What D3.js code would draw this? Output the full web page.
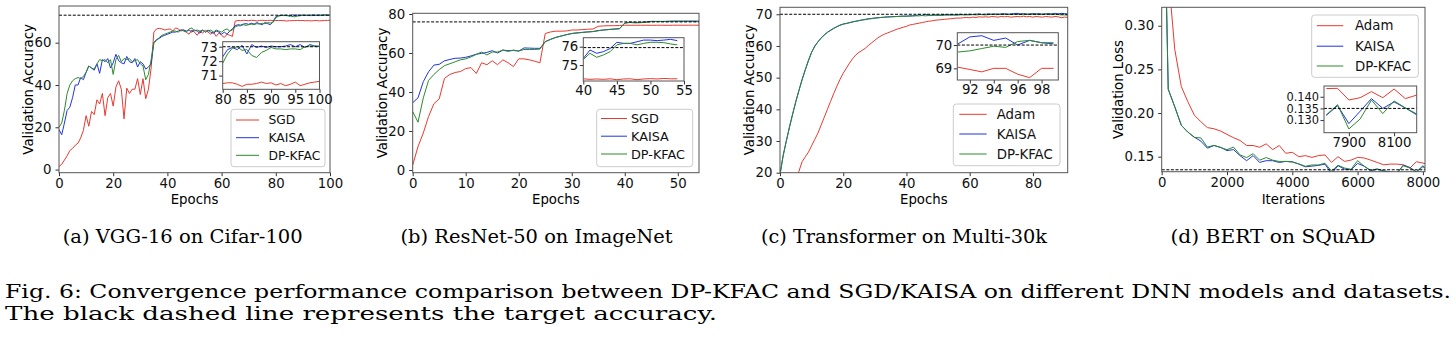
<!DOCTYPE html>
<html>
<head>
<meta charset="utf-8">
<script src="https://cdn.jsdelivr.net/npm/d3@7"></script>
<style>
  body { margin: 0; background: #fff; }
  svg { display: block; }
  .axis text { font-family: 'DejaVu Sans', sans-serif; fill: #111; }
  .axis line { stroke: #333; }
</style>
</head>
<body>
<script>
/* global d3 */

// ---- (a) VGG-16 on Cifar-100 ----
var vggEpochs = d3.range(0, 101);
var vggSGD = [
  1.5, 2.5, 4.5, 6.5, 9, 10, 11.5, 12.5, 15, 18.5,
  25.5, 20.5, 27.5, 26, 33, 31, 36, 25.5, 34, 36,
  30, 39, 42, 38, 24, 38.5, 36, 38, 38, 43,
  35.5, 43, 33.5, 38, 48, 65, 66.5, 66.8, 66.5, 66,
  66.3, 66.5, 65.5, 67, 66.5, 65.5, 66, 65, 64, 66,
  65, 63.5, 65.5, 64.5, 66, 65, 64, 65, 63, 64.5,
  63.5, 62.5, 64, 63.5, 63, 70.2, 70.5, 70.4, 70.6, 70.5,
  70.4, 70.6, 70.5, 70.3, 70.5, 70.6, 70.4, 70.5, 70.6, 70.4,
  70.45, 70.5, 70.5, 70.4, 70.25, 70.4, 70.4, 70.45, 70.55, 70.45,
  70.5, 70.35, 70.45, 70.3, 70.4, 70.55, 70.3, 70.4, 70.5, 70.55,
  70.6
];
var vggKAISA = [
  19, 16.5, 22, 28, 29.5, 34, 40, 40, 43.5, 42.5,
  46, 49, 48, 47, 50, 45.5, 52, 51, 52.5, 48,
  50.5, 54.5, 51.5, 50.5, 50, 53.5, 51, 50.5, 52.5, 48.5,
  51, 50, 47.5, 48.5, 50, 60, 61.5, 62, 63, 63.5,
  64, 64.5, 65, 65, 65.5, 66, 66, 65.5, 66, 65,
  66, 65.5, 64.5, 66, 65, 66, 65, 64.5, 65.5, 65,
  64, 65, 64, 65.5, 66.5, 68, 68.5, 68.3, 68.8, 69,
  68.7, 69.2, 68.8, 69.5, 69, 68.5, 69.5, 69, 68.5, 70,
  72.3, 72.8, 72.95, 72.8, 73.1, 72.5, 73.15, 72.95, 73.05, 72.95,
  73.05, 73, 73, 73.05, 73.15, 73, 73.15, 72.95, 73.15, 73.05,
  73
];
var vggDPKFAC = [
  20, 22, 28, 36, 40, 42, 43, 43.5, 43, 44,
  46, 49, 48, 47.5, 50, 52, 51.5, 52, 50.5, 52,
  45, 52, 54, 51, 52.5, 52, 52.5, 51, 51.5, 52,
  50, 49, 42.5, 45, 52, 60, 61, 62.5, 63.5, 64,
  64.5, 65, 65.5, 65.5, 65, 66, 65.5, 65, 66.5, 67,
  65.5, 66, 65.5, 66, 65, 65.5, 66, 65, 66, 65.5,
  65, 66, 66.5, 65.5, 66, 67.5, 68, 68, 68.5, 68.2,
  68.5, 68.8, 68.5, 69, 68.8, 69.2, 69, 69.5, 69.3, 69.6,
  71.85, 72.5, 72.9, 73, 72.75, 72.8, 72.4, 72.25, 72.6, 72.75,
  72.95, 72.85, 72.85, 72.8, 72.85, 72.85, 72.8, 73, 73.05, 73.05,
  73.05
];
var vggTarget = 73;

// ---- (b) ResNet-50 on ImageNet ----
var resnetEpochs = d3.range(0, 55);
var resnetSGD = [
  2.5, 12, 19, 27.5, 34, 36.5, 47, 49, 50, 50.5,
  52, 52.5, 49.5, 55, 54, 56, 54, 56.5, 55, 53,
  57, 57, 56.5, 55.8, 55, 70, 70.8, 71.2, 71.2, 71.3,
  71.8, 71.8, 72, 72.2, 72.3, 73.7, 73.9, 74, 74, 74.1,
  74.25, 74.22, 74.24, 74.22, 74.25, 74.2, 74.24, 74.25, 74.2, 74.24,
  74.26, 74.24, 74.27, 74.25, 74.25
];
var resnetKAISA = [
  34.5, 37, 45.3, 50.4, 53.8, 54.2, 56, 56.7, 57.3, 57.4,
  57.8, 58.5, 59.4, 59.8, 60.3, 61.2, 60, 61.5, 61.2, 61.3,
  61, 62.6, 62.5, 62.4, 62.4, 65.8, 67, 68, 68.7, 69.4,
  70, 70.3, 70.6, 70.8, 71, 71.5, 71.8, 72.1, 72.3, 72.5,
  75.36, 75.82, 75.64, 75.73, 75.9, 76.24, 76.18, 76.18, 76.27, 76.36,
  76.36, 76.33, 76.36, 76.4, 76.33
];
var resnetDPKFAC = [
  30, 24.5, 37, 46, 49, 51.5, 53.5, 54.5, 55.5, 56.5,
  57, 58, 59.3, 60.5, 59, 60.5, 60.5, 61.5, 60.8, 61.5,
  61, 61.8, 61.8, 61.8, 62, 65.8, 67, 68, 68.7, 69.4,
  70, 70.3, 70.5, 70.8, 71, 71.4, 71.8, 72, 72.2, 72.4,
  75.3, 75.64, 75.42, 75.55, 75.73, 76.1, 76.18, 76.18, 76.1, 76.18,
  76.24, 76.24, 76.22, 76.15, 76.1
];
var resnetTarget = 75.95;

// ---- (c) Transformer on Multi-30k ----
var transEpochs = d3.range(0, 100);
var transAdam = [
  4, 7, 9.5, 12, 14.5, 17.5, 20.5, 23.5, 25, 26.5,
  28.5, 30.5, 32.5, 35, 37.5, 40, 42.5, 45, 47.3, 49.5,
  51.4, 53, 54.6, 56, 57.2, 58, 58.6, 59.3, 60.2, 61,
  61.8, 62.6, 63.2, 63.7, 64.1, 64.5, 64.9, 65.3, 65.6, 65.9,
  66.2, 66.6, 66.8, 67, 67.2, 67.4, 67.6, 67.8, 67.9, 68.1,
  68.2, 68.3, 68.4, 68.5, 68.6, 68.7, 68.8, 68.8, 68.9, 69,
  68.9, 69.1, 69, 69.2, 69.1, 69.2, 69.1, 69.3, 69.2, 69.1,
  69.3, 69.2, 69.3, 69.1, 69.2, 69.3, 69.2, 69.4, 69.2, 69.3,
  69.1, 69.3, 69.2, 69.1, 69.3, 69.2, 69.1, 69.3, 69.2, 68.9,
  69.1, 69.05, 68.95, 68.85, 69, 69, 68.75, 68.6, 69, 69
];
var transKAISA = [
  19.5, 25.5, 30, 34.5, 38.5, 42.5, 46, 49.5, 52.5, 55.5,
  58, 60, 61.3, 62.5, 63.5, 64.3, 65, 65.6, 66.1, 66.6,
  66.9, 67.1, 67.4, 67.6, 67.8, 68, 68.2, 68.4, 68.6, 68.7,
  68.8, 68.9, 69, 69.1, 69.2, 69.2, 69.3, 69.3, 69.4, 69.4,
  69.4, 69.5, 69.5, 69.6, 69.9, 69.6, 70, 69.7, 69.7, 69.8,
  69.7, 69.8, 69.9, 69.8, 69.9, 69.8, 69.9, 70, 69.8, 69.9,
  70, 69.9, 70, 70.1, 69.9, 70, 70.1, 70, 70.1, 70,
  70.1, 70.2, 70, 70.1, 70.2, 70.3, 70.1, 70.2, 70, 70.1,
  70.2, 70.1, 70.2, 70, 70.1, 70.2, 70.1, 70.3, 70.1, 70.3,
  70.2, 70.05, 70.35, 70.4, 70.2, 70.3, 70, 70.2, 70.1, 70.05
];
var transDPKFAC = [
  19.3, 25.3, 30, 34.3, 38.5, 42.3, 46, 49.3, 52.5, 55.3,
  58, 59.8, 61.3, 62.5, 63.4, 64.3, 64.9, 65.5, 66.1, 66.5,
  66.9, 67.1, 67.3, 67.6, 67.8, 68, 68.2, 68.3, 68.5, 68.6,
  68.8, 68.9, 69, 69, 69.1, 69.2, 69.2, 69.3, 69.3, 69.4,
  69.4, 69.4, 69.5, 69.5, 69.5, 69.6, 69.5, 69.6, 69.6, 69.7,
  69.7, 69.6, 69.7, 69.8, 69.7, 69.8, 69.7, 69.8, 69.9, 69.8,
  69.8, 69.9, 69.8, 69.9, 69.9, 69.8, 69.9, 70, 69.9, 69.9,
  70, 69.9, 70, 69.9, 70, 70, 69.9, 70, 70.1, 69.9,
  70, 70, 69.9, 70, 70.1, 70, 69.9, 70, 69.9, 69.8,
  69.8, 69.7, 69.75, 69.85, 69.95, 69.9, 70.15, 70.2, 70.1, 70.1
];
var transTarget = 70;

// ---- (d) BERT on SQuAD ----
var bertIters = [
  0, 200, 400, 600, 800, 1000, 1200, 1400, 1600, 1800,
  2000, 2200, 2400, 2600, 2800, 3000, 3200, 3400, 3600, 3800,
  4000, 4200, 4400, 4600, 4800, 5000, 5200, 5400, 5600, 5800,
  6000, 6200, 6400, 6600, 6800, 7000, 7200, 7400, 7600, 7800,
  8000, 8200
];
var bertAdam = [
  0.62, 0.36, 0.273, 0.2304, 0.213, 0.1976, 0.19, 0.1833, 0.182, 0.1794,
  0.1755, 0.1717, 0.1686, 0.1628, 0.1628, 0.1608, 0.1647, 0.1581, 0.1628, 0.1539,
  0.155, 0.15, 0.1512, 0.1492, 0.1512, 0.152, 0.1434, 0.15, 0.1446, 0.1461,
  0.1492, 0.1485, 0.1461, 0.1434, 0.1407, 0.1415, 0.1415, 0.1407, 0.1369, 0.1442,
  0.1427, 0.1407
];
var bertKAISA = [
  0.6, 0.2273, 0.2072, 0.186, 0.1782, 0.1724, 0.1678, 0.1597, 0.1628, 0.1608,
  0.157, 0.1581, 0.1512, 0.1454, 0.1512, 0.1434, 0.1454, 0.1454, 0.1434, 0.1446,
  0.1442, 0.1415, 0.1384, 0.1392, 0.14, 0.1415, 0.1307, 0.1396, 0.1357, 0.135,
  0.1423, 0.1392, 0.1338, 0.1357, 0.1338, 0.1326, 0.1307, 0.1404, 0.1377, 0.1326,
  0.1396, 0.1326
];
var bertDPKFAC = [
  0.6, 0.2273, 0.2072, 0.186, 0.1782, 0.172, 0.1715, 0.161, 0.163, 0.1605,
  0.158, 0.161, 0.152, 0.149, 0.1535, 0.146, 0.149, 0.146, 0.1445, 0.1446,
  0.1438, 0.1418, 0.139, 0.1405, 0.1405, 0.1425, 0.1335, 0.1402, 0.137, 0.1355,
  0.1455, 0.139, 0.1345, 0.136, 0.1335, 0.1318, 0.1312, 0.1395, 0.1372, 0.1325,
  0.1385, 0.1322
];
var bertZoomIters = [7800, 7850, 7900, 7950, 8000, 8050, 8100, 8150, 8200];
var bertZoomAdam = [0.1435, 0.1436, 0.1386, 0.1396, 0.1422, 0.1396, 0.1433, 0.1392, 0.1407];
var bertZoomKAISA = [0.132, 0.1362, 0.1285, 0.1338, 0.1392, 0.135, 0.1378, 0.1352, 0.1326];
var bertZoomDPKFAC = [0.1322, 0.1366, 0.1262, 0.1305, 0.1386, 0.1328, 0.1382, 0.1352, 0.1322];
var bertTarget = 0.135;

// ---- captions ----
var subCaptions = [
  '(a) VGG-16 on Cifar-100',
  '(b) ResNet-50 on ImageNet',
  '(c) Transformer on Multi-30k',
  '(d) BERT on SQuAD'
];
var figCaption = [
  'Fig. 6: Convergence performance comparison between DP-KFAC and SGD/KAISA on different DNN models and datasets.',
  'The black dashed line represents the target accuracy.'
];

var RED = '#e8392f',
    BLUE = '#2233e0',
    GREEN = '#2c8a2c';

var w = 1456,
    h = 343;

var svg = d3.select('body').append('svg')
  .attr('width', w)
  .attr('height', h);

var panels = [
  {
    id: 'a', left: 59, right: 330, top: 6, bottom: 172.7,
    xDomain: [0, 100], yDomain: [-1.47, 77.35],
    xTicks: [0, 20, 40, 60, 80, 100], yTicks: [0, 20, 40, 60],
    yFormat: d3.format('d'), xFormat: d3.format('d'),
    xLabel: 'Epochs', yLabel: 'Validation Accuracy', yLabelX: 32.7,
    xs: vggEpochs,
    series: [
      { name: 'SGD', values: vggSGD, color: RED },
      { name: 'KAISA', values: vggKAISA, color: BLUE },
      { name: 'DP-KFAC', values: vggDPKFAC, color: GREEN }
    ],
    target: vggTarget,
    legend: { left: 231, right: 325, top: 109.3, bottom: 166.7, rows: [120, 137.7, 155.3], line: [236, 259], textX: 268.5, size: 12.3 },
    inset: {
      left: 222.7, right: 319.5, top: 41.7, bottom: 89.3,
      xDomain: [80, 100], yDomain: [70.05, 73.35], tickSize: 13.3,
      xTicks: [80, 85, 90, 95, 100], yTicks: [71, 72, 73], yFormat: d3.format('d'), from: 80
    }
  },
  {
    id: 'b', left: 412.7, right: 699, top: 13.3, bottom: 172.7,
    xDomain: [0, 54], yDomain: [-1.38, 80.36],
    xTicks: [0, 10, 20, 30, 40, 50], yTicks: [0, 20, 40, 60, 80],
    yFormat: d3.format('d'), xFormat: d3.format('d'),
    xLabel: 'Epochs', yLabel: 'Validation Accuracy', yLabelX: 386.7,
    xs: resnetEpochs,
    series: [
      { name: 'SGD', values: resnetSGD, color: RED },
      { name: 'KAISA', values: resnetKAISA, color: BLUE },
      { name: 'DP-KFAC', values: resnetDPKFAC, color: GREEN }
    ],
    target: resnetTarget,
    legend: { left: 596.7, right: 692.7, top: 109.3, bottom: 166.7, rows: [118.5, 136.2, 154], line: [601, 627], textX: 631, size: 12.8 },
    inset: {
      left: 583.3, right: 684, top: 37.7, bottom: 81,
      xDomain: [40, 55], yDomain: [74.13, 76.49], tickSize: 13.3,
      xTicks: [40, 45, 50, 55], yTicks: [75, 76], yFormat: d3.format('d'), from: 40
    }
  },
  {
    id: 'c', left: 780, right: 1067.7, top: 7.3, bottom: 172.7,
    xDomain: [0, 91], yDomain: [20, 72.2],
    xTicks: [0, 20, 40, 60, 80], yTicks: [20, 30, 40, 50, 60, 70],
    yFormat: d3.format('d'), xFormat: d3.format('d'),
    xLabel: 'Epochs', yLabel: 'Validation Accuracy', yLabelX: 754,
    xs: transEpochs,
    series: [
      { name: 'Adam', values: transAdam, color: RED },
      { name: 'KAISA', values: transKAISA, color: BLUE },
      { name: 'DP-KFAC', values: transDPKFAC, color: GREEN }
    ],
    target: transTarget,
    legend: { left: 953.3, right: 1060, top: 104, bottom: 165.7, rows: [114.3, 134, 154], line: [959.3, 986.7], textX: 996.7, size: 13.3 },
    inset: {
      left: 957.3, right: 1058.3, top: 32.7, bottom: 80,
      xDomain: [90.95, 99.4], yDomain: [68.5, 70.53], tickSize: 13.3,
      xTicks: [92, 94, 96, 98], yTicks: [69, 70], yFormat: d3.format('d'), from: 91
    }
  },
  {
    id: 'd', left: 1161.7, right: 1425, top: 7.3, bottom: 171.7,
    xDomain: [0, 8064], yDomain: [0.1328, 0.3211],
    xTicks: [0, 2000, 4000, 6000, 8000], yTicks: [0.15, 0.2, 0.25, 0.3],
    yFormat: d3.format('.2f'), xFormat: d3.format('d'),
    xLabel: 'Iterations', yLabel: 'Validation Loss', yLabelX: 1122.5,
    xs: bertIters,
    series: [
      { name: 'Adam', values: bertAdam, color: RED },
      { name: 'KAISA', values: bertKAISA, color: BLUE },
      { name: 'DP-KFAC', values: bertDPKFAC, color: GREEN }
    ],
    target: bertTarget,
    legend: { left: 1311.7, right: 1418.3, top: 15, bottom: 77.3, rows: [25.7, 46.2, 66], line: [1316.7, 1343.3], textX: 1355, size: 13.3 },
    inset: {
      left: 1324, right: 1416.7, top: 86, bottom: 132.7,
      xDomain: [7790, 8200], yDomain: [0.1246, 0.1446], tickSize: 11.4,
      xTicks: [7900, 8100], yTicks: [0.13, 0.135, 0.14], yFormat: d3.format('.3f'),
      xs: bertZoomIters,
      series: [bertZoomAdam, bertZoomKAISA, bertZoomDPKFAC]
    }
  }
];

panels.forEach(drawPanel);

// sub captions under each panel
var capLayout = [
  { cx: 182.7, width: 240 },
  { cx: 536.5, width: 272 },
  { cx: 904, width: 286 },
  { cx: 1273, width: 205 }
];

svg.append('g').selectAll('text')
  .data(subCaptions)
  .enter()
  .append('text')
    .attr('x', function(d, i) { return capLayout[i].cx; })
    .attr('y', 243)
    .attr('text-anchor', 'middle')
    .attr('font-family', "'DejaVu Serif', serif")
    .attr('font-size', 19)
    .attr('textLength', function(d, i) { return capLayout[i].width; })
    .attr('lengthAdjust', 'spacingAndGlyphs')
    .text(function(d) { return d; });

var figWidths = [1446, 712];
svg.append('g').selectAll('text')
  .data(figCaption)
  .enter()
  .append('text')
    .attr('x', 5)
    .attr('y', function(d, i) { return 297.5 + i * 22; })
    .attr('font-family', "'DejaVu Serif', serif")
    .attr('font-size', 18.5)
    .attr('textLength', function(d, i) { return figWidths[i]; })
    .attr('lengthAdjust', 'spacingAndGlyphs')
    .text(function(d) { return d; });

function drawPanel(p) {
  var x = d3.scaleLinear().domain(p.xDomain).range([p.left, p.right]);
  var y = d3.scaleLinear().domain(p.yDomain).range([p.bottom, p.top]);
  var g = svg.append('g').attr('class', 'panel-' + p.id);

  addClip('clip-' + p.id, p);

  // axes
  g.append('g')
    .attr('class', 'axis')
    .attr('transform', translation(0, p.bottom))
    .call(d3.axisBottom(x).tickValues(p.xTicks).tickFormat(p.xFormat).tickSize(3.5).tickPadding(2))
    .call(styleAxis, 13.3);

  g.append('g')
    .attr('class', 'axis')
    .attr('transform', translation(p.left, 0))
    .call(d3.axisLeft(y).tickValues(p.yTicks).tickFormat(p.yFormat).tickSize(3.5).tickPadding(4))
    .call(styleAxis, 13.3);

  g.append('text')
    .attr('x', (p.left + p.right) / 2)
    .attr('y', 204)
    .attr('text-anchor', 'middle')
    .attr('font-family', "'DejaVu Sans', sans-serif")
    .attr('font-size', 13.3)
    .text(p.xLabel);

  g.append('text')
    .attr('transform', translation(p.yLabelX, (p.top + p.bottom) / 2) + ' rotate(-90)')
    .attr('text-anchor', 'middle')
    .attr('font-family', "'DejaVu Sans', sans-serif")
    .attr('font-size', 13.3)
    .text(p.yLabel);

  // curves
  var plot = g.append('g').attr('clip-path', 'url(#clip-' + p.id + ')');
  p.series.forEach(function(s) {
    plot.append('path')
      .datum(s.values)
      .attr('fill', 'none')
      .attr('stroke', s.color)
      .attr('stroke-width', 1)
      .attr('d', d3.line()
        .x(function(d, i) { return x(p.xs[i]); })
        .y(function(d) { return y(d); }));
  });

  plot.append('line')
    .attr('x1', p.left).attr('x2', p.right)
    .attr('y1', y(p.target)).attr('y2', y(p.target))
    .attr('stroke', '#000')
    .attr('stroke-width', 1)
    .attr('stroke-dasharray', '3,1.6');

  g.append('rect')
    .attr('x', p.left).attr('y', p.top)
    .attr('width', p.right - p.left).attr('height', p.bottom - p.top)
    .attr('fill', 'none')
    .attr('stroke', '#555')
    .attr('stroke-width', 1);

  drawInset(g, p);
  drawLegend(g, p);
}

function drawInset(g, p) {
  var ins = p.inset;
  var x = d3.scaleLinear().domain(ins.xDomain).range([ins.left, ins.right]);
  var y = d3.scaleLinear().domain(ins.yDomain).range([ins.bottom, ins.top]);
  var ig = g.append('g').attr('class', 'inset');

  ig.append('rect')
    .attr('x', ins.left).attr('y', ins.top)
    .attr('width', ins.right - ins.left).attr('height', ins.bottom - ins.top)
    .attr('fill', '#fff');

  addClip('clip-inset-' + p.id, ins);

  ig.append('g')
    .attr('class', 'axis')
    .attr('transform', translation(0, ins.bottom))
    .call(d3.axisBottom(x).tickValues(ins.xTicks).tickFormat(d3.format('d')).tickSize(3.5).tickPadding(1.5))
    .call(styleAxis, 13.3);

  ig.append('g')
    .attr('class', 'axis')
    .attr('transform', translation(ins.left, 0))
    .call(d3.axisLeft(y).tickValues(ins.yTicks).tickFormat(ins.yFormat).tickSize(3.5).tickPadding(1.5))
    .call(styleAxis, ins.tickSize);

  var xs, lists;
  if (ins.xs) {
    xs = ins.xs;
    lists = ins.series;
  } else {
    var start = p.xs.indexOf(ins.from);
    xs = p.xs.slice(start);
    lists = p.series.map(function(s) { return s.values.slice(start); });
  }

  var plot = ig.append('g').attr('clip-path', 'url(#clip-inset-' + p.id + ')');
  lists.forEach(function(vals, k) {
    plot.append('path')
      .datum(vals)
      .attr('fill', 'none')
      .attr('stroke', p.series[k].color)
      .attr('stroke-width', 1)
      .attr('d', d3.line()
        .x(function(d, i) { return x(xs[i]); })
        .y(function(d) { return y(d); }));
  });

  plot.append('line')
    .attr('x1', ins.left).attr('x2', ins.right)
    .attr('y1', y(p.target)).attr('y2', y(p.target))
    .attr('stroke', '#000')
    .attr('stroke-width', 1)
    .attr('stroke-dasharray', '3,1.6');

  ig.append('rect')
    .attr('x', ins.left).attr('y', ins.top)
    .attr('width', ins.right - ins.left).attr('height', ins.bottom - ins.top)
    .attr('fill', 'none')
    .attr('stroke', '#555')
    .attr('stroke-width', 1);
}

function drawLegend(g, p) {
  var lg = p.legend;
  var leg = g.append('g').attr('class', 'legend');

  leg.append('rect')
    .attr('x', lg.left).attr('y', lg.top)
    .attr('width', lg.right - lg.left).attr('height', lg.bottom - lg.top)
    .attr('rx', 3)
    .attr('fill', '#fff')
    .attr('fill-opacity', 0.85)
    .attr('stroke', '#ccc')
    .attr('stroke-width', 1);

  var rows = leg.selectAll('.entry')
    .data(p.series)
    .enter()
    .append('g')
      .attr('class', 'entry')
      .attr('transform', function(d, i) { return translation(0, lg.rows[i]); });

  rows.append('line')
    .attr('x1', lg.line[0]).attr('x2', lg.line[1])
    .attr('stroke', function(d) { return d.color; })
    .attr('stroke-width', 1);

  rows.append('text')
    .attr('x', lg.textX)
    .attr('dy', '0.36em')
    .attr('font-family', "'DejaVu Sans', sans-serif")
    .attr('font-size', lg.size)
    .attr('fill', '#111')
    .text(function(d) { return d.name; });
}

function addClip(id, box) {
  svg.append('clipPath')
    .attr('id', id)
    .append('rect')
      .attr('x', box.left).attr('y', box.top)
      .attr('width', box.right - box.left).attr('height', box.bottom - box.top);
}

function styleAxis(a, size) {
  a.select('.domain').remove();
  a.selectAll('text').attr('font-size', size);
}

function translation(x, y) {
  return 'translate(' + x + ',' + y + ')';
}
</script>
</body>
</html>
